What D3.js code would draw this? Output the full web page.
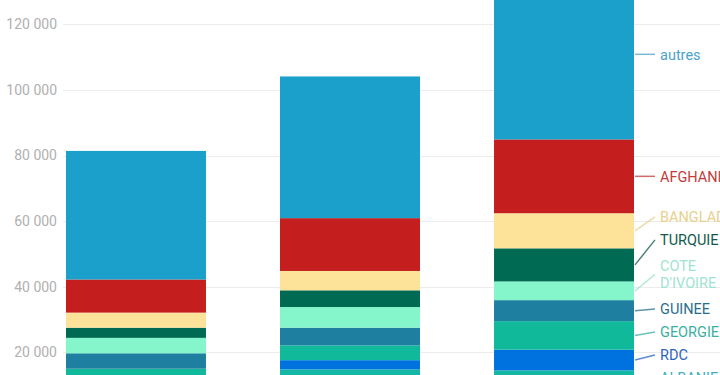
<!DOCTYPE html>
<html><head><meta charset="utf-8">
<script src="https://cdn.jsdelivr.net/npm/d3@7"></script>
<style>
body{margin:0;background:#fff;overflow:hidden}
svg{display:block;font-family:Roboto,"Noto Sans",sans-serif}
</style>
</head><body>
<svg id="c" width="720" height="375"></svg>
<script>
// ---- data ----
const years = ["2015", "2017", "2019"];
const countries = ["ALBANIE", "RDC", "GEORGIE", "GUINEE", "COTE D'IVOIRE", "TURQUIE", "BANGLADESH", "AFGHANISTAN", "autres"];
const ALBANIE      = [6000, 14800, 14500];
const RDC          = [3500, 2800, 6300];
const GEORGIE      = [5500, 4500, 8700];
const GUINEE       = [4700, 5400, 6400];
const COTE_IVOIRE  = [4700, 6300, 5700];
const TURQUIE      = [3100, 5100, 10100];
const BANGLADESH   = [4600, 5900, 10700];
const AFGHANISTAN  = [10100, 16100, 22500];
const AUTRES       = [39200, 43200, 51900];
const yTicks = [20000, 40000, 60000, 80000, 100000, 120000];

const seriesValues = [ALBANIE, RDC, GEORGIE, GUINEE, COTE_IVOIRE, TURQUIE, BANGLADESH, AFGHANISTAN, AUTRES];
const barColors   = ["#14b6a4", "#0072e0", "#0fb99a", "#1f7fa0", "#85f5cc", "#006b52", "#fde29a", "#c41e1e", "#1ba0cc"];
const labelColors = ["#3ab0c0", "#2a64c0", "#3ab0a0", "#2a6e8a", "#9fe3d2", "#10594c", "#e9d08e", "#c23c3c", "#4aa3cc"];

const rows = years.map((yr, i) => {
  const r = {year: yr};
  countries.forEach((c, j) => r[c] = seriesValues[j][i]);
  return r;
});

// ---- layout ----
const svg = d3.select("#c");
const W = 720;
const y = d3.scaleLinear().domain([0, 120000]).range([417.9, 24.3]);
const x = d3.scaleBand().domain(years).range([66, 634]).paddingInner(0.346).paddingOuter(0);

const loc = d3.formatLocale({decimal: ",", thousands: "\u00a0", grouping: [3], currency: ["", "€"]});
const fmt = loc.format(",d");

// grid
svg.append("g").selectAll("line").data(yTicks).join("line")
  .attr("x1", 63).attr("x2", W)
  .attr("y1", d => Math.round(y(d)) + 0.5).attr("y2", d => Math.round(y(d)) + 0.5)
  .attr("stroke", "#ececec").attr("stroke-width", 1);

// y axis labels
const yAxis = d3.axisLeft(y).tickValues(yTicks).tickFormat(fmt).tickSize(0).tickPadding(0);
const ga = svg.append("g").attr("transform", "translate(57,0)").call(yAxis);
ga.select(".domain").remove();
ga.selectAll("text").attr("fill", "#b0b0b0").style("font-size", "14px")
  .style("font-family", "Roboto, sans-serif");

// stacks
const stack = d3.stack().keys(countries);
const series = stack(rows);

svg.append("g").selectAll("g").data(series).join("g")
  .attr("fill", (d, i) => barColors[i])
  .selectAll("rect").data(d => d).join("rect")
  .attr("x", d => x(d.data.year))
  .attr("width", x.bandwidth())
  .attr("y", d => y(d[1]))
  .attr("height", d => y(d[0]) - y(d[1]));

// ---- labels for last bar ----
const last = years.length - 1;
const barRight = x(years[last]) + x.bandwidth();
let labels = series.map((s, i) => {
  const seg = s[last];
  const lines = countries[i].split(" ");
  return {
    name: countries[i], lines, i,
    ideal: (y(seg[0]) + y(seg[1])) / 2,
    h: lines.length * 23
  };
});
labels.sort((a, b) => a.ideal - b.ideal);
const bottomLimit = y(0) - 40;
for (let k = labels.length - 1; k >= 0; k--) {
  const L = labels[k];
  let pos = Math.min(L.ideal, bottomLimit);
  if (k < labels.length - 1) {
    const N = labels[k + 1];
    pos = Math.min(pos, N.pos - (L.h + N.h) / 2);
  }
  L.pos = pos;
}
for (let k = 1; k < labels.length; k++) {
  const P = labels[k - 1], L = labels[k];
  L.pos = Math.max(L.pos, P.pos + (L.h + P.h) / 2);
}

const lg = svg.append("g");
lg.selectAll("line").data(labels).join("line")
  .attr("x1", barRight + 1).attr("y1", d => d.ideal)
  .attr("x2", barRight + 21).attr("y2", d => d.pos)
  .attr("stroke", d => labelColors[d.i]).attr("stroke-width", 1.5).attr("opacity", 0.75);

const lt = lg.selectAll("text").data(labels).join("text")
  .attr("x", barRight + 26)
  .attr("fill", d => labelColors[d.i])
  .style("font-size", "14.5px");
lt.each(function(d) {
  const t = d3.select(this);
  const n = d.lines.length;
  d.lines.forEach((ln, j) => {
    t.append("tspan").attr("x", barRight + 26)
      .attr("y", d.pos + (j - (n - 1) / 2) * 17)
      .attr("dy", "0.36em").text(ln);
  });
});
</script>
</body></html>
